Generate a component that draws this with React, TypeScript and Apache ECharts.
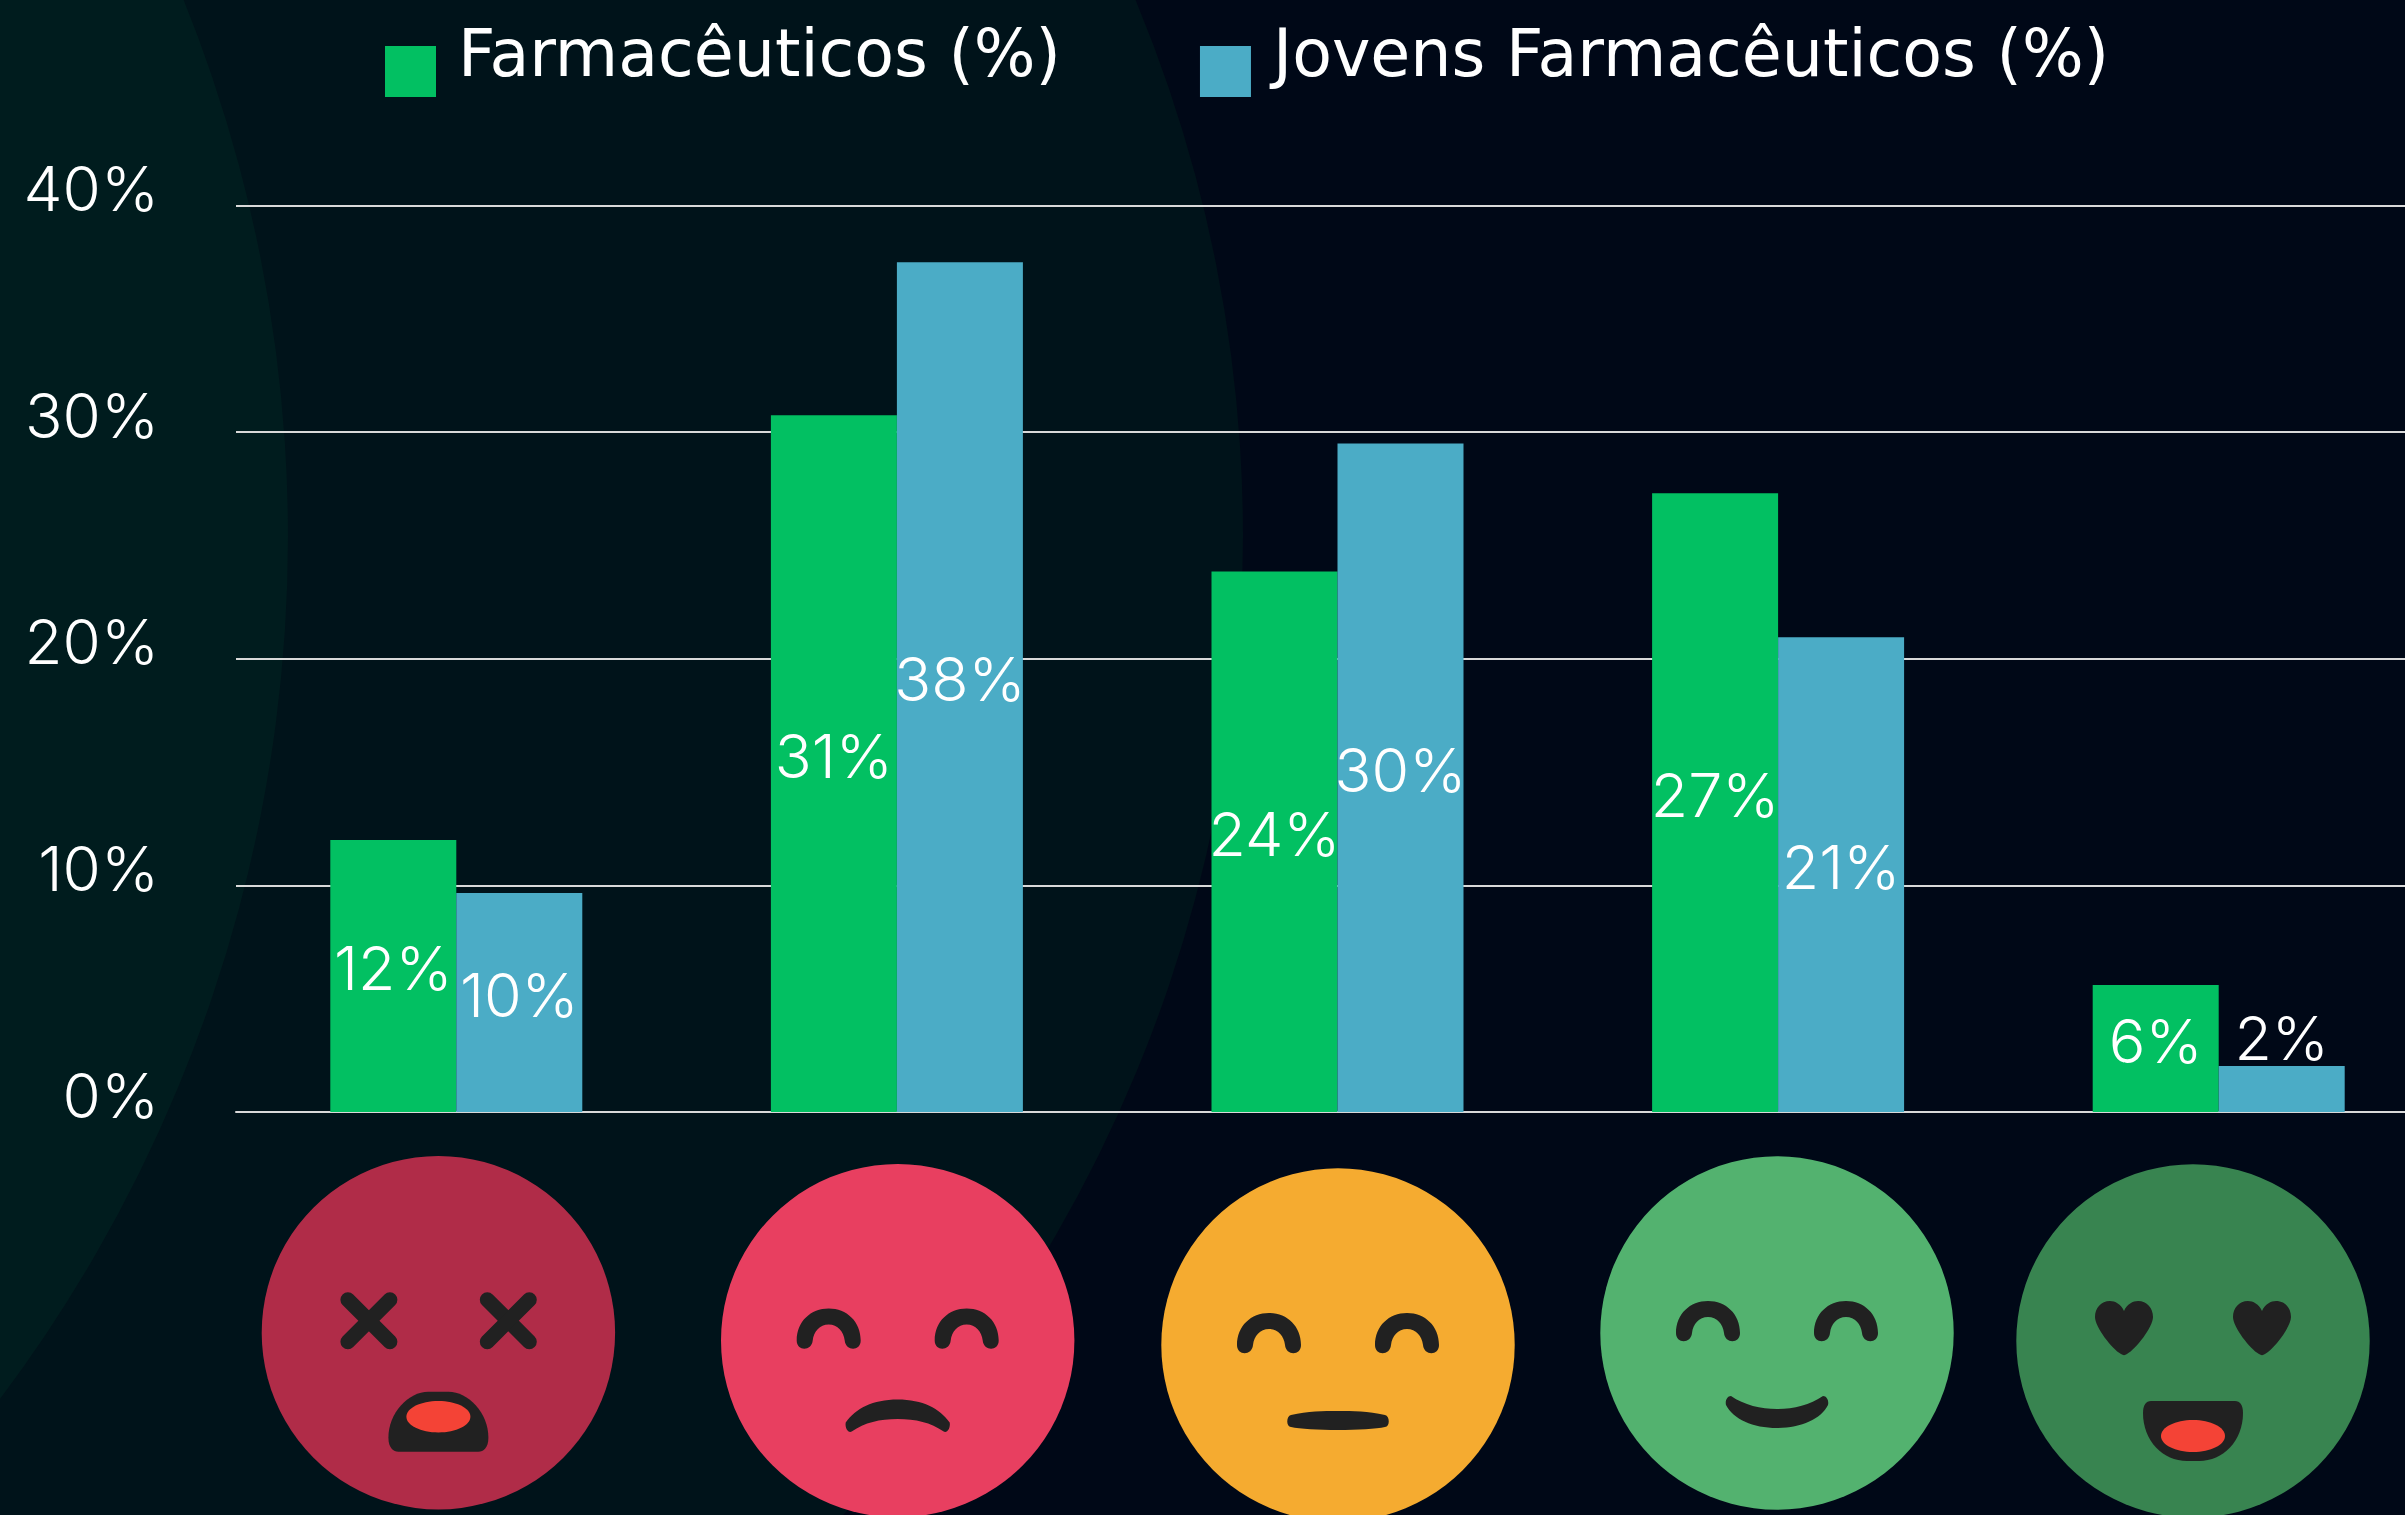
import React, { useEffect, useRef } from "react";
import * as echarts from "echarts";

const categories = ["Péssimo", "Ruim", "Regular", "Bom", "Ótimo"];
const farmaceuticos = [12, 30.75, 23.85, 27.3, 5.6];
const jovens = [9.66, 37.5, 29.5, 20.95, 2.03];
const yTicks = [0, 10, 20, 30, 40];
const seriesNames = ["Farmacêuticos (%)", "Jovens Farmacêuticos (%)"];

const NUM_FONT = "Inter";
const LEGEND_FONT = "DejaVu Sans";
const WHITE = "#ffffff";
const GREEN = "#02C062";
const BLUE = "#4BACC6";
const INK = "#212121";
const RED = "#F44336";
const BACKGROUND = "#000817";

const EYE = "M-32,0 C-32,-19 -18,-32 0,-32 C18,-32 32,-19 32,0 C32,11 17,11 16,0 C15,-9 9,-16 0,-16 C-9,-16 -15,-9 -16,0 C-17,11 -32,11 -32,0 Z";
const HEART = "M0,-30 C3,-37 9,-40 14,-40 C23,-40 29,-33 29,-24 C29,-14 12,8 3,13 C1,14.5 -1,14.5 -3,13 C-12,8 -29,-14 -29,-24 C-29,-33 -23,-40 -14,-40 C-9,-40 -3,-37 0,-30 Z";
const FROWN = "M-52,82 C-42,68 -25,59 0,59 C25,59 42,68 52,82 C53,88 49,93 46,91 C33,82 18,78.5 0,78.5 C-18,78.5 -33,82 -46,91 C-49,93 -53,88 -52,82 Z";
const SMILE = "M-46,63 C-33,72 -16,76 0,76 C16,76 33,72 46,63 C50,63 52,68 51,72 C44,86 24,95 0,95 C-24,95 -44,86 -51,72 C-52,68 -50,63 -46,63 Z";
const FLAT = "M-47,70 C-30,66 -15,66 0,66 C15,66 30,66 47,70 C52,71 52,82 47,82 C30,86 -30,86 -47,82 C-52,82 -52,71 -47,70 Z";
const OPEN_A = "M-50,105 C-50,80 -30,59 -10,59 L10,59 C30,59 50,80 50,105 C50,115 45,119 40,119 L-40,119 C-45,119 -50,115 -50,105 Z";
const OPEN_B = "M-42,60 L42,60 C47,60 50,64 50,72 C50,100 30,120 6,120 L-6,120 C-30,120 -50,100 -50,72 C-50,64 -47,60 -42,60 Z";

const shapes: Record<string, string> = { faceEye: EYE, faceHeart: HEART, faceFrown: FROWN, faceSmile: SMILE, faceFlat: FLAT, faceOpenA: OPEN_A, faceOpenB: OPEN_B };
Object.keys(shapes).forEach((k) => echarts.graphic.registerShape(k, echarts.graphic.extendPath(shapes[k], {})));

function cross(x: number) {
  const s = { stroke: INK, lineWidth: 15, lineCap: "round" };
  return [
    { type: "line", x, y: -12, shape: { x1: -21, y1: -21, x2: 21, y2: 21 }, style: s },
    { type: "line", x, y: -12, shape: { x1: 21, y1: -21, x2: -21, y2: 21 }, style: s },
  ];
}
const fill = (type: string, x = 0, y = 0) => ({ type, x, y, style: { fill: INK } });
const eyes = (kind = "faceEye") => [fill(kind, -69), fill(kind, 69)];

const FACES = [
  { x: 438.4, y: 1332.7, color: "#B02C48", parts: [...cross(-69.5), ...cross(69.9), fill("faceOpenA"), { type: "ellipse", shape: { cx: 0, cy: 84, rx: 32, ry: 15.7 }, style: { fill: RED } }] },
  { x: 897.7, y: 1340.6, color: "#E83F60", parts: [...eyes(), fill("faceFrown")] },
  { x: 1338, y: 1345, color: "#F5AB30", parts: [...eyes(), fill("faceFlat")] },
  { x: 1777, y: 1333, color: "#53B26F", parts: [...eyes(), fill("faceSmile")] },
  { x: 2193, y: 1341, color: "#388450", parts: [...eyes("faceHeart"), fill("faceOpenB"), { type: "ellipse", shape: { cx: 0, cy: 95, rx: 32, ry: 16 }, style: { fill: RED } }] },
];

const barLabel = {
  show: true,
  position: "inside",
  color: WHITE,
  fontFamily: NUM_FONT,
  fontWeight: 300,
  fontSize: 61,
  offset: [0, -8],
  formatter: (p: any) => `${Math.round(p.value)}%`,
};

export default function App() {
  const ref = useRef<HTMLDivElement>(null);
  useEffect(() => {
    document.body.style.margin = "0";
    document.body.style.background = BACKGROUND;
    const chart = echarts.init(ref.current!, undefined, { renderer: "svg" });
    chart.setOption({
      animation: false,
      backgroundColor: BACKGROUND,
      grid: { left: 236, top: 205.5, width: 2203, height: 906.5, containLabel: false, outerBoundsMode: "none" },
      legend: {
        left: 380,
        top: 16,
        itemWidth: 51,
        itemHeight: 51,
        itemGap: 139,
        icon: "rect",
        data: seriesNames,
        formatter: (n: string) => `{t|${n}}`,
        textStyle: {
          color: WHITE,
          rich: { t: { color: WHITE, fontFamily: LEGEND_FONT, fontWeight: 400, fontSize: 65, padding: [0, 0, 36, 17] } },
        },
      },
      xAxis: {
        type: "category",
        data: categories,
        axisTick: { show: false },
        axisLabel: { show: false },
        axisLine: { show: true, lineStyle: { color: "#d9d9d9", width: 2 } },
      },
      yAxis: {
        type: "value",
        min: yTicks[0],
        max: yTicks[yTicks.length - 1],
        interval: 10,
        axisLine: { show: false },
        axisTick: { show: false },
        splitLine: { show: true, lineStyle: { color: "#d9d9d9", width: 2 } },
        axisLabel: {
          margin: 77,
          formatter: (v: number) => `{t|${v}%}`,
          rich: { t: { color: WHITE, fontFamily: NUM_FONT, fontWeight: 300, fontSize: 62, padding: [0, 0, 34, 0] } },
        },
      },
      series: [
        {
          name: seriesNames[0],
          type: "bar",
          barWidth: 126,
          barGap: "0%",
          itemStyle: { color: GREEN },
          label: barLabel,
          data: farmaceuticos,
        },
        {
          name: seriesNames[1],
          type: "bar",
          barWidth: 126,
          barGap: "0%",
          itemStyle: { color: BLUE },
          label: barLabel,
          data: jovens.map((v, i) => (i === jovens.length - 1 ? { value: v, label: { position: "top", offset: [0, 8] } } : v)),
        },
      ],
      graphic: {
        elements: [
          { type: "circle", silent: true, z: -20, shape: { cx: -153, cy: 537, r: 1396 }, style: { fill: "#00131A" } },
          { type: "circle", silent: true, z: -19, shape: { cx: -1146, cy: 537, r: 1434 }, style: { fill: "#001C1E" } },
          ...FACES.map((f) => ({
            type: "group",
            x: f.x,
            y: f.y,
            silent: true,
            children: [{ type: "circle", shape: { cx: 0, cy: 0, r: 176.7 }, style: { fill: f.color } }, ...f.parts],
          })),
        ],
      },
    });
    return () => chart.dispose();
  }, []);
  return <div ref={ref} style={{ position: "absolute", left: 0, top: 0, width: 2405, height: 1515 }} />;
}
